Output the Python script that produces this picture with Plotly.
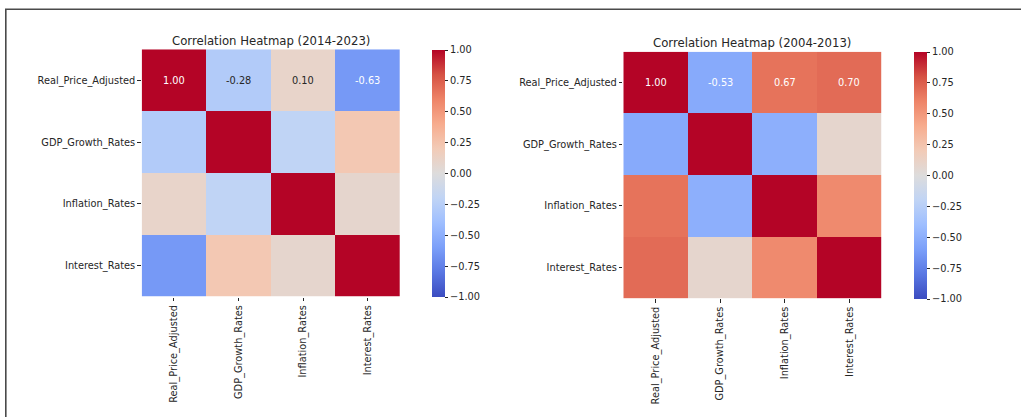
import plotly.graph_objects as go

labels = ["Real_Price_Adjusted", "GDP_Growth_Rates", "Inflation_Rates", "Interest_Rates"]

corr_2014_2023 = [
    [1.00, -0.28, 0.10, -0.63],
    [-0.28, 1.00, -0.20, 0.22],
    [0.10, -0.20, 1.00, 0.08],
    [-0.63, 0.22, 0.08, 1.00],
]
corr_2004_2013 = [
    [1.00, -0.53, 0.67, 0.70],
    [-0.53, 1.00, -0.50, 0.08],
    [0.67, -0.50, 1.00, 0.57],
    [0.70, 0.08, 0.57, 1.00],
]
titles = ["Correlation Heatmap (2014-2023)", "Correlation Heatmap (2004-2013)"]
cbar_ticks = [1.0, 0.75, 0.5, 0.25, 0.0, -0.25, -0.5, -0.75, -1.0]

coolwarm = ['#3b4cc0', '#5977e3', '#7b9ff9', '#9ebeff', '#c0d4f5', '#dddcdc',
            '#f2cbb7', '#f7ac8e', '#ee8468', '#d65244', '#b40426']
cscale = [[i / 10, c] for i, c in enumerate(coolwarm)]

W, H = 1021, 417
FONT = "DejaVu Sans"
TXT = "#262626"
FS = 9.8

def px(x):
    return x / W

def py(y):
    return 1 - y / H

fig = go.Figure()

panels = [
    dict(mat=corr_2014_2023, xd=[px(141.7), px(400)], yd=[py(296.7), py(49.3)],
         cbx=px(432.3), cby=py(173.5), tx=px(270.5), ty=py(40.7)),
    dict(mat=corr_2004_2013, xd=[px(623.3), px(881.7)], yd=[py(298.3), py(51.7)],
         cbx=px(914.3), cby=py(175.5), tx=px(752), ty=py(42.5)),
]

for i, p in enumerate(panels):
    sfx = "" if i == 0 else str(i + 1)
    fig.add_trace(go.Heatmap(
        z=p["mat"], x=labels, y=labels, xaxis="x" + sfx, yaxis="y" + sfx,
        colorscale=cscale, zmin=-1, zmax=1, hoverongaps=False,
        colorbar=dict(
            x=p["cbx"], xanchor="left", y=p["cby"], yanchor="middle",
            len=247, lenmode="pixels", thickness=12.7, thicknessmode="pixels",
            xpad=0, ypad=0, outlinewidth=0, borderwidth=0,
            tickvals=cbar_ticks, tickformat=".2f", ticks="outside", ticklen=3.5,
            tickcolor=TXT, tickwidth=0.8,
            tickfont=dict(family=FONT, size=FS, color=TXT),
        ),
    ))
    fig.update_layout(**{
        "xaxis" + sfx: dict(domain=p["xd"], anchor="y" + sfx, tickangle=-90,
                            ticks="outside", ticklen=3.5, tickcolor=TXT, tickwidth=0.8,
                            showgrid=False, zeroline=False, showline=False,
                            tickfont=dict(family=FONT, size=FS, color=TXT)),
        "yaxis" + sfx: dict(domain=p["yd"], anchor="x" + sfx, autorange="reversed",
                            ticks="outside", ticklen=3.5, tickcolor=TXT, tickwidth=0.8,
                            showgrid=False, zeroline=False, showline=False,
                            tickfont=dict(family=FONT, size=FS, color=TXT)),
    })
    # annotations for the first row only (as in the reference)
    row = p["mat"][0]
    for j, v in enumerate(row):
        dark = -0.4 < v < 0.4
        fig.add_annotation(x=labels[j], y=labels[0], xref="x" + sfx, yref="y" + sfx,
                           text=f"{v:.2f}", showarrow=False,
                           font=dict(family=FONT, size=FS, color=TXT if dark else "white"))
    fig.add_annotation(x=p["tx"], y=p["ty"], xref="paper", yref="paper",
                       text=titles[i], showarrow=False, xanchor="center", yanchor="middle",
                       font=dict(family=FONT, size=11.7, color=TXT))

# outer frame
fig.add_shape(type="rect", xref="paper", yref="paper",
              x0=px(5.8), x1=1.2, y0=-0.2, y1=py(9.2),
              line=dict(color="#4a4a4a", width=1.6), fillcolor="rgba(0,0,0,0)")

fig.update_layout(
    width=W, height=H, margin=dict(l=0, r=0, t=0, b=0),
    paper_bgcolor="white", plot_bgcolor="white", showlegend=False,
    font=dict(family=FONT, color=TXT),
)

fig.write_html("out.html")
